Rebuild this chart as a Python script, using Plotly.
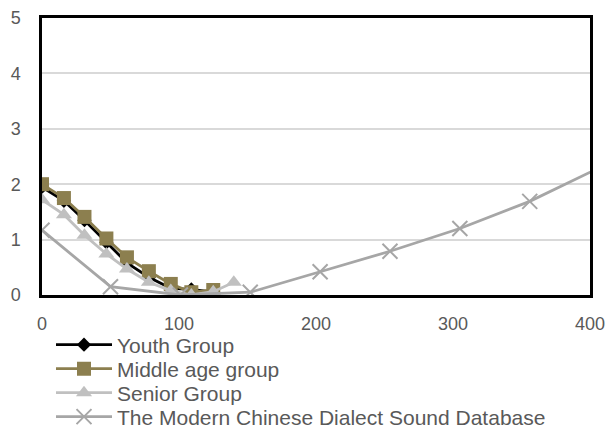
import plotly.graph_objects as go

# Age-group series share the same x sampling
group_x = [0, 16, 31, 47, 62, 78, 94, 109, 125, 140]
youth_y = [1.95, 1.70, 1.35, 0.95, 0.58, 0.32, 0.12, 0.10, 0.05]
middle_y = [2.00, 1.75, 1.41, 1.02, 0.68, 0.43, 0.20, 0.05, 0.09]
senior_y = [1.72, 1.45, 1.08, 0.74, 0.47, 0.23, 0.08, 0.00, 0.06, 0.23]

# Reference database series
db_x = [0, 50, 101, 152, 203, 254, 305, 356, 407]
db_y = [1.17, 0.15, 0.00, 0.05, 0.42, 0.79, 1.20, 1.69, 2.30]

names = ["Youth Group", "Middle age group", "Senior Group",
         "The Modern Chinese Dialect Sound Database"]

font_family = "Liberation Sans"
text_color = "#595959"
W, H = 611, 429

fig = go.Figure()
fig.add_trace(go.Scatter(
    x=group_x[:len(youth_y)], y=youth_y, name=names[0], mode="lines+markers",
    line=dict(color="#000000", width=2.8),
    marker=dict(symbol="diamond", size=11, color="#000000"),
    legend="legend"))
fig.add_trace(go.Scatter(
    x=group_x[:len(middle_y)], y=middle_y, name=names[1], mode="lines+markers",
    line=dict(color="#8c7f4f", width=2.8),
    marker=dict(symbol="square", size=14, color="#8c7f4f"),
    legend="legend2"))
fig.add_trace(go.Scatter(
    x=group_x[:len(senior_y)], y=senior_y, name=names[2], mode="lines+markers",
    line=dict(color="#c0c0c0", width=2.8),
    marker=dict(symbol="triangle-up", size=14, color="#c0c0c0"),
    legend="legend3"))
fig.add_trace(go.Scatter(
    x=db_x, y=db_y, name=names[3], mode="lines+markers",
    line=dict(color="#a6a6a6", width=2.8),
    marker=dict(symbol="x-thin", size=15, color="#a6a6a6",
                line=dict(color="#a6a6a6", width=2)),
    legend="legend4"))

# one legend box per entry so the rows keep a tight, even pitch
legend_rows = [345, 369, 393, 417]
legend_boxes = {}
for i, row in enumerate(legend_rows):
    key = "legend" if i == 0 else f"legend{i + 1}"
    legend_boxes[key] = dict(
        xref="container", yref="container",
        x=51 / W, y=1 - row / H, xanchor="left", yanchor="middle",
        orientation="v", bgcolor="rgba(0,0,0,0)", itemwidth=56,
        font=dict(family=font_family, size=21, color=text_color))

fig.update_layout(
    width=W, height=H,
    margin=dict(l=42, r=21, t=18, b=134, autoexpand=False),
    paper_bgcolor="white", plot_bgcolor="white",
    font=dict(family=font_family, size=18, color=text_color),
    showlegend=True,
    xaxis=dict(
        range=[0, 400], tickvals=[0, 100, 200, 300, 400],
        showgrid=False, zeroline=False,
        showline=True, mirror=True, linecolor="#000000", linewidth=2.5,
        ticks="", ticklabelstandoff=11,
        tickfont=dict(family=font_family, size=18, color=text_color)),
    yaxis=dict(
        range=[0, 5], tickvals=[0, 1, 2, 3, 4, 5],
        showgrid=True, gridcolor="#d9d9d9", gridwidth=1.5, zeroline=False,
        showline=True, mirror=True, linecolor="#000000", linewidth=2.5,
        ticks="", ticklabelstandoff=15,
        tickfont=dict(family=font_family, size=18, color=text_color)),
    **legend_boxes,
)

fig.write_html("out.html")
